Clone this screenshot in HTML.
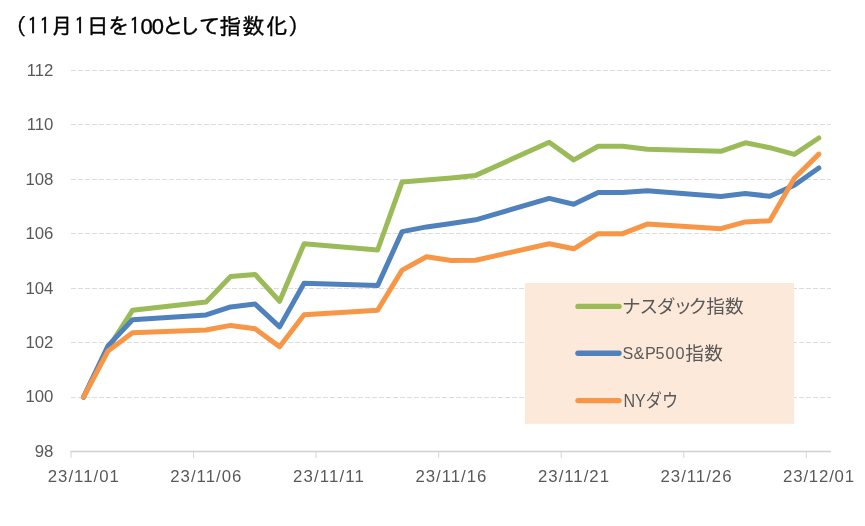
<!DOCTYPE html>
<html lang="ja"><head><meta charset="utf-8"><title>chart</title>
<style>
html,body{margin:0;padding:0;background:#fff;}
svg{display:block}
.ax text{font-family:"Liberation Sans",sans-serif;font-size:16.8px;fill:#595959}
.lg text{font-family:"Liberation Sans","Noto Sans CJK JP",sans-serif;font-size:18.67px;fill:#595959}
.ttl .i{font-family:"IPAGothic","Liberation Sans",sans-serif;font-size:21px}
.lg .la{font-size:16.2px}
.ttl{font-family:"Liberation Sans","IPAGothic","Noto Sans CJK JP",sans-serif;font-size:22px;fill:#000;stroke:#000;stroke-width:0.35px}
</style></head><body>
<svg width="865" height="526" viewBox="0 0 865 526">
<rect width="865" height="526" fill="#fff"/>
<text class="ttl" x="4.6 27.4 39.6 51.1 74.4 86.8 107.5 129.6 140.6 151.8 162.1 178.2 198.7 219.0 242.5 266.1 287.9" y="34">（<tspan class="i">11</tspan>月<tspan class="i">1</tspan>日を<tspan class="i">1</tspan>00として指数化）</text>
<g stroke="#dcdcdc" stroke-width="1" stroke-dasharray="5 2" shape-rendering="crispEdges">
<line x1="71" x2="831" y1="70.5" y2="70.5"/>
<line x1="71" x2="831" y1="124.5" y2="124.5"/>
<line x1="71" x2="831" y1="179.5" y2="179.5"/>
<line x1="71" x2="831" y1="233.5" y2="233.5"/>
<line x1="71" x2="831" y1="288.5" y2="288.5"/>
<line x1="71" x2="831" y1="342.5" y2="342.5"/>
<line x1="71" x2="831" y1="397.5" y2="397.5"/>
</g>
<g stroke="#d0d0d0" stroke-width="1.5" fill="none">
<line x1="70.5" x2="831" y1="451.6" y2="451.6"/>
</g>
<g stroke="#d4d4d4" stroke-width="1" fill="none">
<line x1="71.0" x2="71.0" y1="451.5" y2="458"/>
<line x1="193.6" x2="193.6" y1="451.5" y2="458"/>
<line x1="316.1" x2="316.1" y1="451.5" y2="458"/>
<line x1="438.7" x2="438.7" y1="451.5" y2="458"/>
<line x1="561.2" x2="561.2" y1="451.5" y2="458"/>
<line x1="683.8" x2="683.8" y1="451.5" y2="458"/>
<line x1="806.3" x2="806.3" y1="451.5" y2="458"/>
</g>
<g class="ax">
<text x="53.4" y="75.7" text-anchor="end">112</text>
<text x="53.4" y="130.1" text-anchor="end">110</text>
<text x="53.4" y="184.6" text-anchor="end">108</text>
<text x="53.4" y="239.0" text-anchor="end">106</text>
<text x="53.4" y="293.5" text-anchor="end">104</text>
<text x="53.4" y="347.9" text-anchor="end">102</text>
<text x="53.4" y="402.4" text-anchor="end">100</text>
<text x="53.4" y="456.8" text-anchor="end">98</text>
<text x="83.3" y="482" text-anchor="middle" textLength="71" lengthAdjust="spacing">23/11/01</text>
<text x="205.8" y="482" text-anchor="middle" textLength="71" lengthAdjust="spacing">23/11/06</text>
<text x="328.4" y="482" text-anchor="middle" textLength="71" lengthAdjust="spacing">23/11/11</text>
<text x="450.9" y="482" text-anchor="middle" textLength="71" lengthAdjust="spacing">23/11/16</text>
<text x="573.5" y="482" text-anchor="middle" textLength="71" lengthAdjust="spacing">23/11/21</text>
<text x="696.0" y="482" text-anchor="middle" textLength="71" lengthAdjust="spacing">23/11/26</text>
<text x="818.6" y="482" text-anchor="middle" textLength="71" lengthAdjust="spacing">23/12/01</text>
</g>
<g fill="none" stroke-width="5" stroke-linecap="round" stroke-linejoin="round">
<polyline stroke="#9BBB59" points="83.5,397.2 108.0,348.7 132.5,310.3 206.1,301.9 230.6,276.6 255.1,274.4 279.6,301.3 304.1,243.7 377.6,250.0 402.1,181.9 426.6,179.9 451.2,177.9 475.7,175.4 549.2,142.3 573.7,159.9 598.2,146.2 622.7,146.2 647.2,149.3 720.8,151.3 745.3,142.8 769.8,147.7 794.3,154.4 818.8,138.0"/>
<polyline stroke="#4F81BD" points="83.5,397.2 108.0,345.9 132.5,319.8 206.1,314.9 230.6,306.9 255.1,304.1 279.6,326.9 304.1,283.2 377.6,285.6 402.1,231.6 426.6,226.9 451.2,223.5 475.7,219.8 549.2,198.4 573.7,204.3 598.2,192.4 622.7,192.4 647.2,190.7 720.8,196.4 745.3,193.5 769.8,196.3 794.3,185.2 818.8,168.0"/>
<polyline stroke="#F79646" points="83.5,397.2 108.0,351.0 132.5,332.8 206.1,330.0 230.6,325.4 255.1,328.7 279.6,346.7 304.1,314.7 377.6,310.2 402.1,270.1 426.6,256.7 451.2,260.5 475.7,260.3 549.2,243.7 573.7,248.8 598.2,233.7 622.7,233.7 647.2,224.1 720.8,228.7 745.3,221.9 769.8,220.8 794.3,178.2 818.8,154.1"/>
</g>
<rect x="525" y="283" width="269" height="140.8" fill="#FDE9D9"/>
<g fill="none" stroke-width="5.4" stroke-linecap="round">
<line x1="578" x2="619" y1="306.4" y2="306.4" stroke="#9BBB59"/>
<line x1="578" x2="619" y1="353.3" y2="353.3" stroke="#4F81BD"/>
<line x1="578" x2="619" y1="400.6" y2="400.6" stroke="#F79646"/>
</g>
<g class="lg">
<text x="621.9 639.6 656.7 673.4 688.4 706.2 724.9" y="312.6">ナスダック指数</text>
<text y="359.2"><tspan class="la" x="622.6 633.5 645.1 655.5 665.4 675.4">S&amp;P500</tspan><tspan x="685.3 704.3" y="359.8">指数</tspan></text>
<text x="623.5" y="406.5" textLength="54.5" lengthAdjust="spacingAndGlyphs">NYダウ</text>
</g>
</svg>
</body></html>
